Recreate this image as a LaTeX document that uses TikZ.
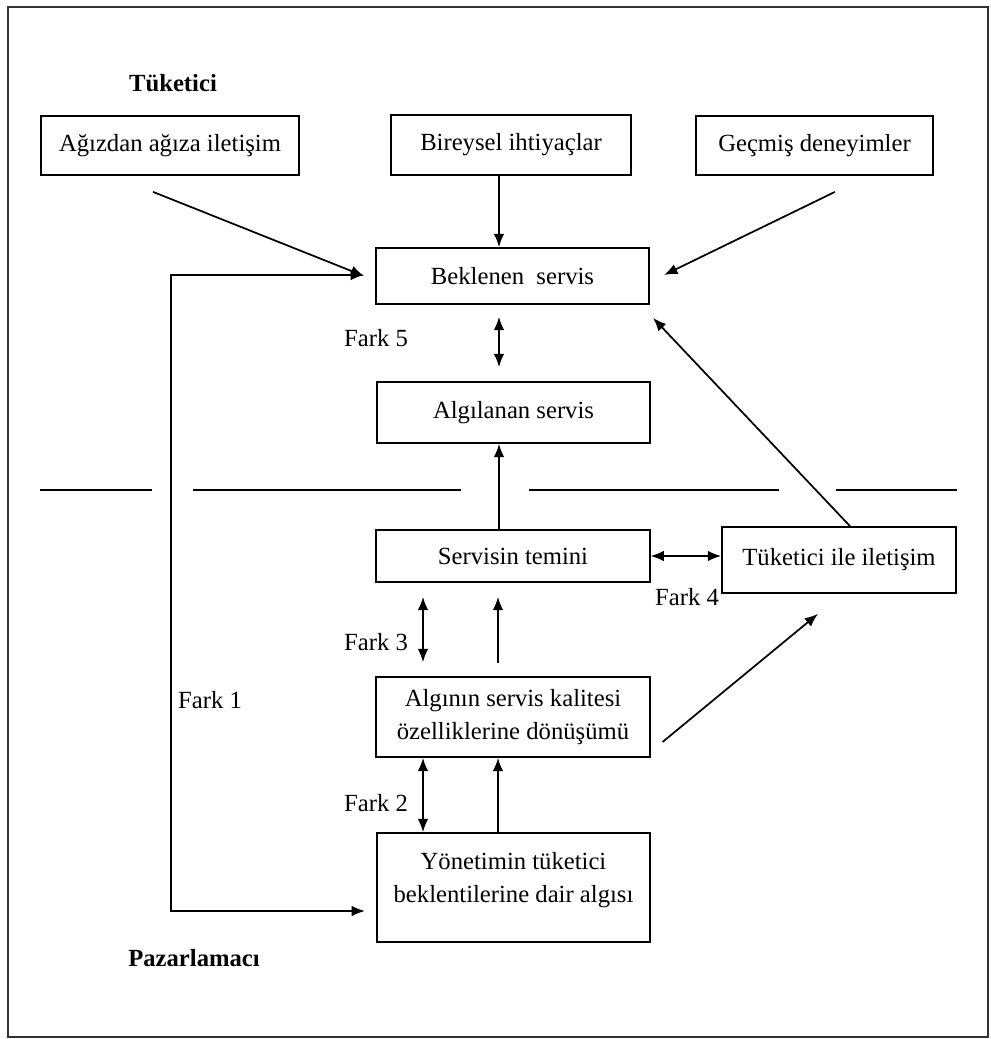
\documentclass[tikz,border=0pt]{standalone}
\usepackage{fontspec}
\setmainfont{Liberation Serif}
\usetikzlibrary{arrows.meta,calc}

\begin{document}
\begin{tikzpicture}[x=0.75pt, y=-0.75pt, line width=1.3pt, >={Latex[length=10pt,width=8pt]},
  every node/.style={font=\fontsize{18.5}{25}\selectfont},
  box/.style={draw, line width=1.3pt, align=center, inner sep=0pt},
  midbox/.style={box, minimum width=205pt},
  baslik/.style={font=\fontsize{18.5}{25}\selectfont\bfseries}]

\useasboundingbox (0,0) rectangle (990,1039);
\draw[line width=1pt, black!80] (8,7) rectangle (988,1037);

% Tuketici tarafi
\node[baslik] (tuketici) at (173,83) {Tüketici};
\node[box, minimum width=193.5pt, minimum height=44.25pt] (agizdan) at (170,145.5) {Ağızdan ağıza iletişim};
\node[box, minimum width=180pt, minimum height=45pt] (bireysel) at (511,145) {Bireysel ihtiyaçlar};
\node[box, minimum width=177.75pt, minimum height=44.25pt] (gecmis) at (814.5,145.5) {Geçmiş deneyimler};

\node[midbox, minimum height=42pt] (beklenen) at (512.5,276) {Beklenen~\ servis};
\node[midbox, minimum height=45.75pt] (algilanan) at (513.5,412.5) {Algılanan servis};

% Ayirma cizgisi
\foreach \a/\b in {40/152, 193/461, 529/779, 836/957}
  \draw (\a,490) -- (\b,490);

% Pazarlamaci tarafi
\node[midbox, minimum height=39pt] (temin) at (513,556) {Servisin temini};
\node[box, minimum width=175.5pt, minimum height=49.5pt] (iletisim) at (839,560) {Tüketici ile iletişim};
\node[midbox, minimum height=60pt] (algi) at (513,717) {Algının servis kalitesi\\özelliklerine dönüşümü};
\node[midbox, minimum height=81.75pt] (yonetim) at (513.5,887.5) {Yönetimin tüketici\\beklentilerine dair algısı\\[-10pt]\mbox{}};
\node[baslik] (pazarlamaci) at (194,958) {Pazarlamacı};

% Farklar
\node (fark1) at (210,700) {Fark 1};
\node (fark2) at (376,803) {Fark 2};
\node (fark3) at (376,642) {Fark 3};
\node (fark4) at (687,597) {Fark 4};
\node (fark5) at (376,338) {Fark 5};

% Oklar
\draw[->] ($(agizdan.south)+(-17,16)$) -- ($(beklenen.west)+(-11,0)$);
\draw[->] ($(bireysel.south)+(-12,0)$) -- ($(beklenen.north)+(-13.5,0)$);
\draw[->] ($(gecmis.south)+(20.5,16)$) -- ($(beklenen.east)+(14,-1)$);
\draw[<->] ($(beklenen.south)+(-13.5,12)$) -- ($(algilanan.north)+(-14.5,-14)$);
\draw[->] ($(temin.north)+(-14,0)$) -- ($(algilanan.south)+(-14.5,0)$);
\draw[<->] (temin.east) -- (temin.east -| iletisim.west);
\draw[<->] ($(temin.south)+(-90,14)$) -- ($(algi.north)+(-90,-14)$);
\draw[->] ($(algi.north)+(-15,-13)$) -- ($(temin.south)+(-15,14)$);
\draw[->] ($(algi.east)+(12,25)$) -- ($(iletisim.south)+(-21,20)$);
\draw[->] ($(iletisim.north)+(11,0)$) -- ($(beklenen.south east)+(3,13)$);
\draw[<->] ($(algi.south)+(-90,0)$) -- ($(yonetim.north)+(-90.5,0)$);
\draw[->] ($(yonetim.north)+(-15.5,0)$) -- ($(algi.south)+(-15,0)$);
\draw[<->] ($(beklenen.west)+(-11,-1)$) -- ++(-193,0) |- ($(yonetim.west)+(-11,23.5)$);

\end{tikzpicture}
\end{document}
